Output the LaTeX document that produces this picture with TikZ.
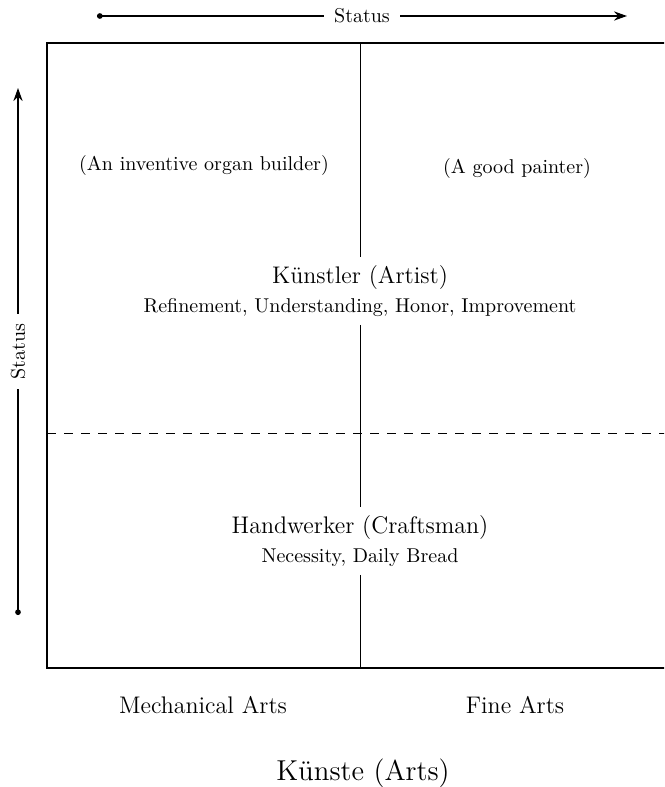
\documentclass[tikz,border=0pt]{standalone}
\usetikzlibrary{arrows.meta}
\begin{document}
\begin{tikzpicture}[x=0.5pt,y=-0.5pt,
  frame/.style={line width=1.2pt},
  divider/.style={line width=0.5pt},
  halfline/.style={line width=0.5pt,dash pattern=on 4.5pt off 4pt},
  statusarrow/.style={line width=0.8pt,{Circle[length=2.8pt]}-{Stealth[length=6.5pt,width=4.6pt]}},
  statuslbl/.style={fill=white,inner sep=5pt},
  rolebox/.style={fill=white,inner sep=4pt,align=center},
  plain/.style={inner sep=0pt,anchor=base}]
\useasboundingbox (0,0) rectangle (664,787);
\clip (0,0) rectangle (664,787);
% frame
\coordinate (TL) at (47,43);
\coordinate (BR) at (673,668);
\draw[frame] (TL) rectangle (BR);
% dashed divider
\coordinate (dl) at (47,433);
\coordinate (dr) at (673,433);
\draw[halfline] (dl) -- (dr);
% role nodes
\node[rolebox] (artist) at (360,291) {{\large K\"unstler (Artist)}\\[2.5pt]Refinement, Understanding, Honor, Improvement};
\node[rolebox] (craft) at (360,541) {{\large Handwerker (Craftsman)}\\[2.5pt]Necessity, Daily Bread};
% vertical divider
\coordinate (mt) at (360,43);
\coordinate (mb) at (360,668);
\draw[divider] (mt) -- (artist.north);
\draw[divider] (artist.south) -- (craft.north);
\draw[divider] (craft.south) -- (mb);
% quadrant examples
\node[plain] (organ) at (204,170) {(An inventive organ builder)};
\node[plain] (painter) at (517,173) {(A good painter)};
% axis labels
\node[plain,font=\large] (mech) at (203,713) {Mechanical Arts};
\node[plain,font=\large] (fine) at (515,713) {Fine Arts};
\node[plain,font=\Large] (arts) at (363,780) {K\"unste (Arts)};
% status arrows
\coordinate (ha) at (97,16);
\coordinate (hb) at (627,16);
\draw[statusarrow] (ha) -- (hb) node[statuslbl,midway] (hs) {Status};
\coordinate (va) at (18,615);
\coordinate (vb) at (18,88);
\draw[statusarrow] (va) -- (vb) node[statuslbl,midway,rotate=90] (vs) {Status};
\end{tikzpicture}
\end{document}
